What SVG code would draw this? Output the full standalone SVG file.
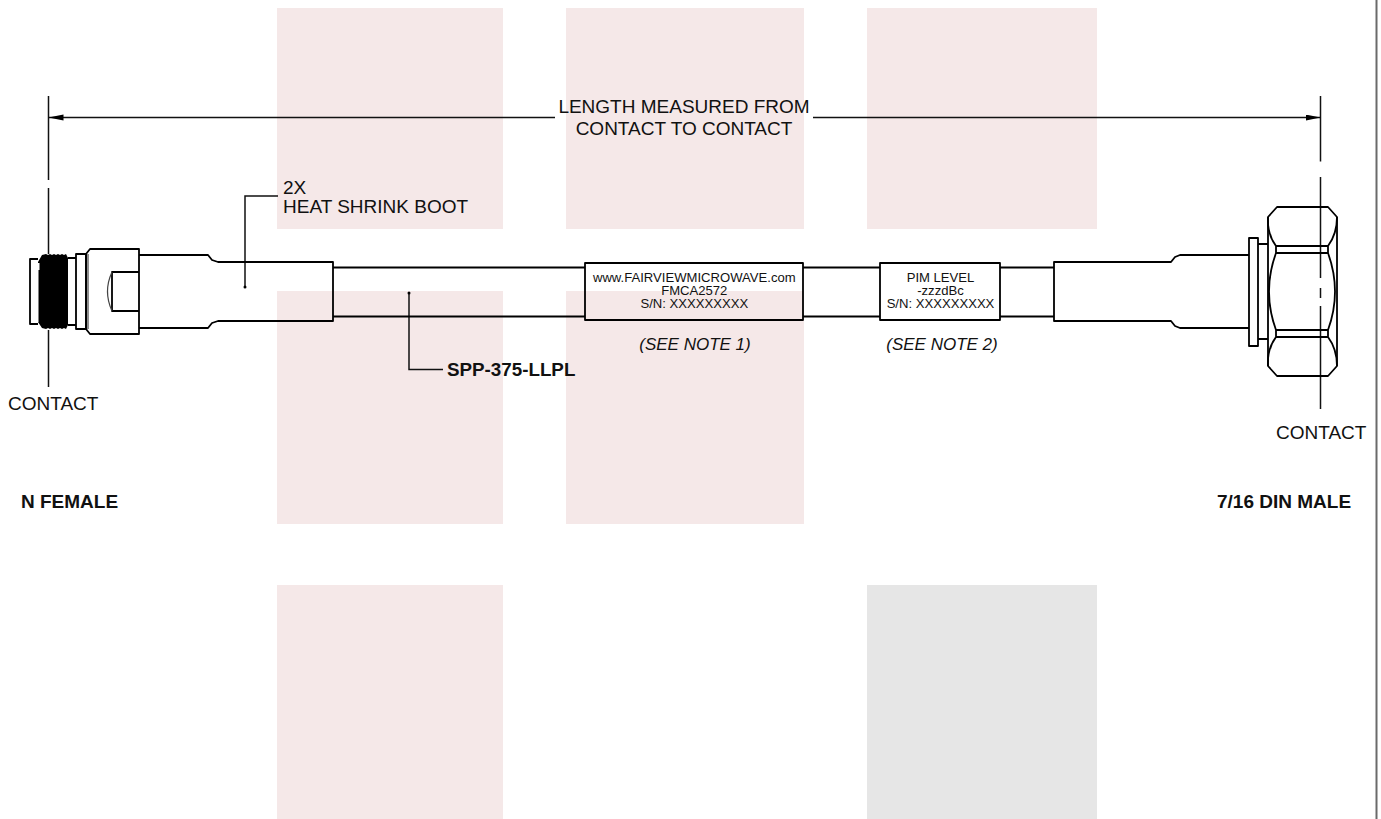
<svg xmlns="http://www.w3.org/2000/svg" width="1381" height="819" viewBox="0 0 1381 819">
<style>
text{font-family:"Liberation Sans",Arial,sans-serif;fill:#111}
.t{font-size:19px}
.l{font-size:13.100px;text-anchor:middle}
.b{font-size:19px;font-weight:bold}
.i{font-size:17px;font-style:italic;text-anchor:middle}
.p{fill:#f5e8e8}
.s{fill:none;stroke:#000;stroke-width:1.800;stroke-linejoin:round}
.n{fill:none;stroke:#444;stroke-width:1.200}
.c{fill:none;stroke:#111;stroke-width:1.500}
</style>
<defs>
<marker id="ah" markerUnits="userSpaceOnUse" markerWidth="16" markerHeight="8" refX="15" refY="3" orient="auto-start-reverse"><path d="M0 0L15 3L0 6Z" fill="#000"/></marker>
</defs>
<rect width="1381" height="819" fill="#fff"/>
<g id="background">
<rect class="p" x="277" y="8" width="226" height="221"/>
<rect class="p" x="566" y="8" width="238" height="221"/>
<rect class="p" x="867" y="8" width="230" height="221"/>
<rect class="p" x="277" y="291" width="226" height="233"/>
<rect class="p" x="566" y="291" width="238" height="233"/>
<rect class="p" x="277" y="585" width="226" height="234"/>
<rect x="867" y="585" width="230" height="234" fill="#e6e6e6"/>
<rect x="1375.500" y="0" width="2" height="819" fill="#6a6a6a"/>
</g>
<g id="connectors">
<path class="c" d="M48.500 96V180M48.500 188V254M48.500 330V387"/>
<path class="c" d="M1320.500 96V161.500M1320.500 177V278M1320.500 288V298M1320.500 306V409"/>
<path class="c" d="M555 117.500H48.500" marker-end="url(#ah)"/>
<path class="c" d="M813 117.500H1320.500" marker-end="url(#ah)"/>
<path class="c" d="M278 196H245V287"/>
<circle cx="245" cy="287" r="1.500" fill="#000"/>
<path class="c" d="M409 293V369.500H443"/>
<circle cx="409" cy="293" r="1.500" fill="#000"/>
</g>
<g id="cable">
<path class="s" d="M333 267.500H585M333 316.500H585M803 267.500H880M803 316.500H880M1000 267.500H1054M1000 316.500H1054"/>
</g>
<g id="n-female">
<path class="s" d="M38 259H30V324H38"/>
<path d="M38 262L42 255L46 254L48 255L50 254L52 255L54 254L56 255L58 254L60 255L62 254L64 255L66 254L68 258V325L66 329L64 328L62 329L60 328L58 329L56 328L54 329L52 328L50 329L48 328L46 329L42 328L38 322Z" fill="#000"/>
<path d="M37.500 263H39.500V270H38.500V322H37.500Z" fill="#fff"/>
<path class="s" d="M68 258H76M68 325H76"/>
<path class="s" d="M76 254H86V329H76Z"/>
<path class="s" d="M86 254L90 249H139V334H90L86 329Z"/>
<path class="n" d="M88 254V329"/>
<path class="s" d="M139 272H112V311H139"/>
<path class="n" d="M112 272Q103 291.500 112 311"/>
<path class="s" d="M139 255H208L212 260L218 262H333V321H218L212 323L208 328H139"/>
</g>
<g id="din-male">
<path class="s" d="M1054 267.500V262H1171L1175 257L1180 255H1249M1054 316.500V321H1171L1175 326L1180 328H1249M1054 262V321"/>
<path class="s" d="M1249 238H1258V346H1249Z"/>
<path class="s" d="M1258 244H1268M1258 339H1268"/>
<path class="s" d="M1268 217L1277 207H1328L1337 217V366L1328 376H1277L1268 366Z"/>
<path class="s" d="M1268 217Q1267 234 1276 246H1328Q1337 234 1337 217M1276 253H1328V246M1276 246V253M1276 253Q1262 291.500 1276 330M1328 253Q1342 291.500 1328 330M1276 330H1328V337H1276ZM1268 366Q1267 349 1276 337M1337 366Q1337 349 1328 337"/>
</g>
<g id="label-1">
<rect class="s" x="585" y="263" width="218" height="57"/>
<text class="l" x="694.300" y="282">www.FAIRVIEWMICROWAVE.com</text>
<text class="l" x="694.300" y="295">FMCA2572</text>
<text class="l" x="694.300" y="308">S/N: XXXXXXXXX</text>
<text class="i" x="695" y="350">(SEE NOTE 1)</text>
</g>
<g id="label-2">
<rect class="s" x="880" y="263" width="120" height="57" fill="#fff"/>
<text class="l" x="940.500" y="282">PIM LEVEL</text>
<text class="l" x="940.500" y="295">-zzzdBc</text>
<text class="l" x="940.500" y="308">S/N: XXXXXXXXX</text>
<text class="i" x="942" y="350">(SEE NOTE 2)</text>
</g>
<g id="annotations">
<text class="t" x="684" y="113" text-anchor="middle">LENGTH MEASURED FROM</text>
<text class="t" x="684" y="135" text-anchor="middle">CONTACT TO CONTACT</text>
<text class="t" x="283" y="194">2X</text>
<text class="t" x="283" y="213">HEAT SHRINK BOOT</text>
<text class="t" x="8" y="410">CONTACT</text>
<text class="t" x="1276" y="438.500">CONTACT</text>
<text class="b" x="447" y="376" style="font-size:18.800px">SPP-375-LLPL</text>
<text class="b" x="21" y="507.500">N FEMALE</text>
<text class="b" x="1217" y="507.500">7/16 DIN MALE</text>
</g>
</svg>
